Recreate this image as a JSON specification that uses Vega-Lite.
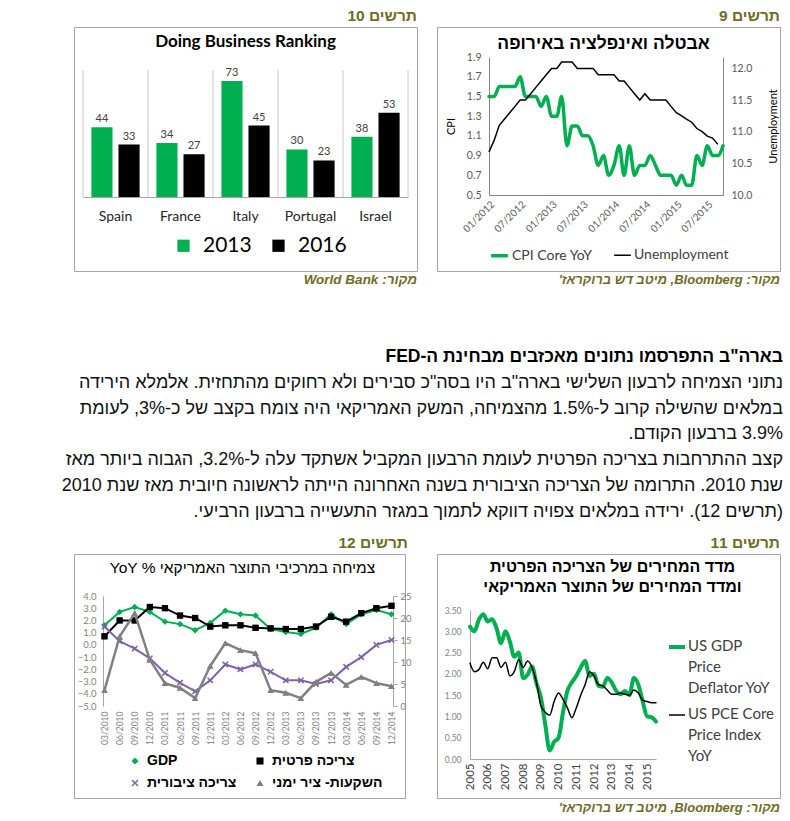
{
  "$schema": "https://vega.github.io/schema/vega-lite/v6.json",
  "background": "#ffffff",
  "padding": {"left": 0, "top": 5, "right": 0, "bottom": 0},
  "columns": 3,
  "spacing": {"row": 0, "column": 20},
  "bounds": "flush",
  "resolve": {"scale": {"color": "independent", "size": "independent", "shape": "independent", "strokeWidth": "independent"}},
  "config": {
    "view": {"stroke": null},
    "axis": {"grid": false, "labelFont": "Lato", "titleFont": "Lato", "domainColor": "#a6a6a6", "tickColor": "#a6a6a6", "labelColor": "#595959", "titleColor": "#000000", "titleFontWeight": "normal", "labelOverlap": false},
    "legend": {"labelFont": "Lato", "labelColor": "#404040"},
    "title": {"font": "Liberation Sans", "color": "#000000"}
  },
  "concat": [
    {"width": 54, "height": 1, "data": {"values": []}, "mark": "point"},
    {"width": 343, "height": 22, "data": {"values": [{"label": "\u202bתרשים  10\u202c"}]}, "mark": {"type": "text", "x": "width", "y": "height", "dy": -11, "align": "right", "baseline": "middle", "font": "Liberation Sans", "fontSize": 15.5, "fontWeight": "bold", "color": "#6f6b24"}, "encoding": {"text": {"field": "label", "type": "nominal"}}},
    {"width": 343, "height": 22, "data": {"values": [{"label": "\u202bתרשים  9\u202c"}]}, "mark": {"type": "text", "x": "width", "y": "height", "dy": -11, "align": "right", "baseline": "middle", "font": "Liberation Sans", "fontSize": 15.5, "fontWeight": "bold", "color": "#6f6b24"}, "encoding": {"text": {"field": "label", "type": "nominal"}}},

    {"width": 54, "height": 1, "data": {"values": []}, "mark": "point"},
    {
      "width": 343, "height": 244,
      "view": {"stroke": "#a6a6a6"},
      "title": {"text": "Doing Business Ranking", "font": "Lato", "fontSize": 17, "fontWeight": "bold", "color": "#000000", "anchor": "middle", "frame": "group", "offset": -24},
      "data": {"values": [
        {"country": "Spain", "year": "2013", "rank": 44}, {"country": "Spain", "year": "2016", "rank": 33},
        {"country": "France", "year": "2013", "rank": 34}, {"country": "France", "year": "2016", "rank": 27},
        {"country": "Italy", "year": "2013", "rank": 73}, {"country": "Italy", "year": "2016", "rank": 45},
        {"country": "Portugal", "year": "2013", "rank": 30}, {"country": "Portugal", "year": "2016", "rank": 23},
        {"country": "Israel", "year": "2013", "rank": 38}, {"country": "Israel", "year": "2016", "rank": 53}
      ]},
      "encoding": {
        "x": {"field": "country", "type": "nominal", "scale": {"domain": ["Spain", "France", "Italy", "Portugal", "Israel"], "range": [9, 334], "paddingInner": 0, "paddingOuter": 0}, "axis": {"orient": "bottom", "offset": -74, "title": null, "ticks": false, "labelAngle": 0, "labelFontSize": 14, "labelColor": "#262626", "labelPadding": 12, "domainColor": "#a6a6a6"}},
        "y": {"field": "rank", "type": "quantitative", "scale": {"domain": [0, 80], "range": [170, 43], "nice": false}, "axis": null}
      },
      "layer": [
        {"transform": [{"filter": "datum.year == '2013'"}], "mark": {"type": "rule", "color": "#c8c8c8", "strokeWidth": 1}, "encoding": {"x": {"field": "country", "type": "nominal", "bandPosition": 0}, "y": {"datum": 0, "type": "quantitative"}, "y2": {"datum": 80}}},
        {"transform": [{"filter": "datum.year == '2013' && datum.country == 'Israel'"}], "mark": {"type": "rule", "color": "#c8c8c8", "strokeWidth": 1}, "encoding": {"x": {"field": "country", "type": "nominal", "bandPosition": 1}, "y": {"datum": 0, "type": "quantitative"}, "y2": {"datum": 80}}},
        {"mark": {"type": "bar"}, "encoding": {
          "xOffset": {"field": "year", "type": "nominal", "scale": {"paddingInner": 0.22, "paddingOuter": 0.31}},
          "color": {"field": "year", "type": "nominal", "scale": {"domain": ["2013", "2016"], "range": ["#00b050", "#000000"]}, "legend": {"orient": "none", "legendX": 99, "legendY": 208, "direction": "horizontal", "title": null, "symbolType": "square", "symbolSize": 150, "labelFontSize": 21, "labelColor": "#000000", "labelOffset": 9, "columnPadding": 16, "symbolStrokeWidth": 0}}
        }},
        {"mark": {"type": "text", "dy": -8, "font": "Lato", "fontSize": 11, "color": "#404040"}, "encoding": {
          "xOffset": {"field": "year", "type": "nominal", "scale": {"paddingInner": 0.22, "paddingOuter": 0.31}},
          "text": {"field": "rank", "type": "quantitative"}
        }}
      ]
    },
    {
      "width": 343, "height": 244,
      "view": {"stroke": "#a6a6a6"},
      "title": {"text": "אבטלה ואינפלציה באירופה", "fontSize": 17.5, "fontWeight": "bold", "anchor": "middle", "frame": "group", "offset": -25, "dx": -5},
      "data": {"values": [
        {"d": "2012/01/01", "CPI Core YoY": 1.5, "Unemployment": 10.68},
        {"d": "2012/02/01", "CPI Core YoY": 1.5, "Unemployment": 10.87},
        {"d": "2012/03/01", "CPI Core YoY": 1.6, "Unemployment": 11.1},
        {"d": "2012/04/01", "CPI Core YoY": 1.6, "Unemployment": 11.2},
        {"d": "2012/05/01", "CPI Core YoY": 1.6, "Unemployment": 11.3},
        {"d": "2012/06/01", "CPI Core YoY": 1.6, "Unemployment": 11.4},
        {"d": "2012/07/01", "CPI Core YoY": 1.7, "Unemployment": 11.5},
        {"d": "2012/08/01", "CPI Core YoY": 1.5, "Unemployment": 11.5},
        {"d": "2012/09/01", "CPI Core YoY": 1.5, "Unemployment": 11.6},
        {"d": "2012/10/01", "CPI Core YoY": 1.5, "Unemployment": 11.7},
        {"d": "2012/11/01", "CPI Core YoY": 1.4, "Unemployment": 11.8},
        {"d": "2012/12/01", "CPI Core YoY": 1.5, "Unemployment": 11.9},
        {"d": "2013/01/01", "CPI Core YoY": 1.3, "Unemployment": 12.0},
        {"d": "2013/02/01", "CPI Core YoY": 1.3, "Unemployment": 12.0},
        {"d": "2013/03/01", "CPI Core YoY": 1.5, "Unemployment": 12.1},
        {"d": "2013/04/01", "CPI Core YoY": 1.0, "Unemployment": 12.1},
        {"d": "2013/05/01", "CPI Core YoY": 1.2, "Unemployment": 12.1},
        {"d": "2013/06/01", "CPI Core YoY": 1.2, "Unemployment": 12.0},
        {"d": "2013/07/01", "CPI Core YoY": 1.1, "Unemployment": 12.0},
        {"d": "2013/08/01", "CPI Core YoY": 1.1, "Unemployment": 12.0},
        {"d": "2013/09/01", "CPI Core YoY": 1.0, "Unemployment": 12.0},
        {"d": "2013/10/01", "CPI Core YoY": 0.8, "Unemployment": 11.9},
        {"d": "2013/11/01", "CPI Core YoY": 0.9, "Unemployment": 11.9},
        {"d": "2013/12/01", "CPI Core YoY": 0.7, "Unemployment": 11.9},
        {"d": "2014/01/01", "CPI Core YoY": 0.8, "Unemployment": 11.9},
        {"d": "2014/02/01", "CPI Core YoY": 1.0, "Unemployment": 11.8},
        {"d": "2014/03/01", "CPI Core YoY": 0.7, "Unemployment": 11.8},
        {"d": "2014/04/01", "CPI Core YoY": 1.0, "Unemployment": 11.7},
        {"d": "2014/05/01", "CPI Core YoY": 0.7, "Unemployment": 11.6},
        {"d": "2014/06/01", "CPI Core YoY": 0.8, "Unemployment": 11.5},
        {"d": "2014/07/01", "CPI Core YoY": 0.8, "Unemployment": 11.6},
        {"d": "2014/08/01", "CPI Core YoY": 0.9, "Unemployment": 11.5},
        {"d": "2014/09/01", "CPI Core YoY": 0.8, "Unemployment": 11.5},
        {"d": "2014/10/01", "CPI Core YoY": 0.7, "Unemployment": 11.5},
        {"d": "2014/11/01", "CPI Core YoY": 0.7, "Unemployment": 11.5},
        {"d": "2014/12/01", "CPI Core YoY": 0.7, "Unemployment": 11.4},
        {"d": "2015/01/01", "CPI Core YoY": 0.6, "Unemployment": 11.3},
        {"d": "2015/02/01", "CPI Core YoY": 0.7, "Unemployment": 11.25},
        {"d": "2015/03/01", "CPI Core YoY": 0.6, "Unemployment": 11.2},
        {"d": "2015/04/01", "CPI Core YoY": 0.6, "Unemployment": 11.15},
        {"d": "2015/05/01", "CPI Core YoY": 0.9, "Unemployment": 11.05},
        {"d": "2015/06/01", "CPI Core YoY": 0.8, "Unemployment": 11.0},
        {"d": "2015/07/01", "CPI Core YoY": 1.0, "Unemployment": 10.93},
        {"d": "2015/08/01", "CPI Core YoY": 0.9, "Unemployment": 10.9},
        {"d": "2015/09/01", "CPI Core YoY": 0.9, "Unemployment": 10.8},
        {"d": "2015/10/01", "CPI Core YoY": 1.0}
      ]},
      "transform": [{"fold": ["CPI Core YoY", "Unemployment"], "as": ["series", "v"]}, {"filter": "datum.v != null"}],
      "encoding": {
        "x": {"field": "d", "type": "temporal", "scale": {"domain": [{"year": 2012, "month": 1, "date": 1}, {"year": 2015, "month": 10, "date": 1}], "range": [52, 286], "nice": false}, "axis": {"orient": "bottom", "offset": -76, "title": null, "ticks": false, "format": "%m/%Y", "labelAngle": -45, "labelFontSize": 10, "labelPadding": 4, "domainColor": "#868686", "values": [{"year": 2012, "month": 1, "date": 1}, {"year": 2012, "month": 7, "date": 1}, {"year": 2013, "month": 1, "date": 1}, {"year": 2013, "month": 7, "date": 1}, {"year": 2014, "month": 1, "date": 1}, {"year": 2014, "month": 7, "date": 1}, {"year": 2015, "month": 1, "date": 1}, {"year": 2015, "month": 7, "date": 1}]}},
        "color": {"field": "series", "type": "nominal", "scale": {"domain": ["CPI Core YoY", "Unemployment"], "range": ["#00b050", "#000000"]}, "legend": {"orient": "none", "legendX": 52, "legendY": 218, "direction": "horizontal", "title": null, "symbolType": "stroke", "symbolSize": 280, "labelFontSize": 14, "labelOffset": 2, "columnPadding": 18}},
        "strokeWidth": {"field": "series", "type": "nominal", "scale": {"domain": ["CPI Core YoY", "Unemployment"], "range": [3.5, 1.5]}, "legend": {"orient": "none", "legendX": 52, "legendY": 218, "direction": "horizontal", "title": null, "symbolType": "stroke", "symbolSize": 280, "labelFontSize": 14, "labelOffset": 2, "columnPadding": 18}}
      },
      "layer": [
        {"transform": [{"filter": "datum.series == 'CPI Core YoY'"}], "mark": {"type": "line", "interpolate": "monotone", "strokeCap": "round"}, "encoding": {"y": {"field": "v", "type": "quantitative", "scale": {"domain": [0.5, 1.9], "range": [168, 30], "nice": false, "zero": false}, "axis": {"orient": "left", "offset": -52, "values": [0.5, 0.7, 0.9, 1.1, 1.3, 1.5, 1.7, 1.9], "format": ".1f", "title": "CPI", "titleFontSize": 11, "titlePadding": 10, "ticks": false, "labelPadding": 8, "labelFontSize": 10.5, "labelOverlap": false, "domainColor": "#868686"}}}},
        {"transform": [{"filter": "datum.series == 'Unemployment'"}], "mark": {"type": "line"}, "encoding": {"y": {"field": "v", "type": "quantitative", "scale": {"domain": [10, 12.18], "range": [168, 30], "nice": false, "zero": false}, "axis": {"orient": "right", "offset": -57, "values": [10, 10.5, 11, 11.5, 12], "format": ".1f", "title": "Unemployment", "titleFontSize": 11, "titleAngle": 270, "titleBaseline": "top", "titlePadding": 16, "ticks": false, "labelPadding": 8, "labelFontSize": 10.5, "labelOverlap": false, "domainColor": "#868686"}}}}
      ],
      "resolve": {"scale": {"y": "independent"}}
    },

    {"width": 54, "height": 1, "data": {"values": []}, "mark": "point"},
    {"width": 343, "height": 16, "data": {"values": [{"label": "\u202bמקור: World Bank\u202c"}]}, "mark": {"type": "text", "x": "width", "y": "height", "dy": -7, "align": "right", "baseline": "middle", "font": "Liberation Sans", "fontSize": 13.5, "fontWeight": "bold", "fontStyle": "italic", "color": "#6f6b24"}, "encoding": {"text": {"field": "label", "type": "nominal"}}},
    {"width": 343, "height": 16, "data": {"values": [{"label": "\u202bמקור: Bloomberg, מיטב דש ברוקראז'\u202c"}]}, "mark": {"type": "text", "x": "width", "y": "height", "dy": -7, "align": "right", "baseline": "middle", "font": "Liberation Sans", "fontSize": 13, "fontWeight": "bold", "fontStyle": "italic", "color": "#6f6b24"}, "encoding": {"text": {"field": "label", "type": "nominal"}}},

    {"width": 54, "height": 1, "data": {"values": []}, "mark": "point"},
    {"width": 1, "height": 1, "data": {"values": []}, "mark": "point"},
    {
      "width": 343, "height": 245,
      "data": {"values": [
        {"row": 0, "kind": "h", "text": "\u202bבארה\"ב התפרסמו נתונים מאכזבים מבחינת ה-FED\u202c"},
        {"row": 1, "kind": "b", "text": "\u202bנתוני הצמיחה לרבעון השלישי בארה\"ב היו בסה\"כ סבירים ולא רחוקים מהתחזית. אלמלא הירידה\u202c"},
        {"row": 2, "kind": "b", "text": "\u202bבמלאים שהשילה קרוב ל-1.5% מהצמיחה, המשק האמריקאי היה צומח בקצב של כ-3%, לעומת\u202c"},
        {"row": 3, "kind": "b", "text": "\u202b3.9% ברבעון הקודם.\u202c"},
        {"row": 4, "kind": "b", "text": "\u202bקצב ההתרחבות בצריכה הפרטית לעומת הרבעון המקביל אשתקד עלה ל-3.2%, הגבוה ביותר מאז\u202c"},
        {"row": 5, "kind": "b", "text": "\u202bשנת 2010. התרומה של הצריכה הציבורית בשנה האחרונה הייתה לראשונה חיובית מאז שנת 2010\u202c"},
        {"row": 6, "kind": "b", "text": "\u202b(תרשים 12). ירידה במלאים צפויה דווקא לתמוך במגזר התעשייה ברבעון הרביעי.\u202c"}
      ]},
      "encoding": {
        "y": {"field": "row", "type": "quantitative", "scale": {"domain": [-2.71, 6.78], "reverse": true, "nice": false, "zero": false}, "axis": null},
        "text": {"field": "text", "type": "nominal"}
      },
      "layer": [
        {"transform": [{"filter": "datum.kind == 'h'"}], "mark": {"type": "text", "x": "width", "dx": 3, "align": "right", "baseline": "middle", "font": "Liberation Sans", "fontSize": 17.5, "fontWeight": "bold", "color": "#000000"}},
        {"transform": [{"filter": "datum.kind == 'b'"}], "mark": {"type": "text", "x": "width", "dx": 3, "align": "right", "baseline": "middle", "font": "Liberation Sans", "fontSize": 18, "fontWeight": "normal", "color": "#111111"}}
      ]
    },

    {"width": 54, "height": 1, "data": {"values": []}, "mark": "point"},
    {"width": 334, "height": 22, "data": {"values": [{"label": "\u202bתרשים  12\u202c"}]}, "mark": {"type": "text", "x": "width", "y": "height", "dy": -11, "align": "right", "baseline": "middle", "font": "Liberation Sans", "fontSize": 15.5, "fontWeight": "bold", "color": "#6f6b24"}, "encoding": {"text": {"field": "label", "type": "nominal"}}},
    {"width": 343, "height": 22, "data": {"values": [{"label": "\u202bתרשים  11\u202c"}]}, "mark": {"type": "text", "x": "width", "y": "height", "dy": -11, "align": "right", "baseline": "middle", "font": "Liberation Sans", "fontSize": 15.5, "fontWeight": "bold", "color": "#6f6b24"}, "encoding": {"text": {"field": "label", "type": "nominal"}}},

    {"width": 54, "height": 1, "data": {"values": []}, "mark": "point"},
    {
      "width": 331, "height": 244,
      "view": {"stroke": "#a6a6a6"},
      "title": {"text": "YoY % צמיחה במרכיבי התוצר האמריקאי", "fontSize": 15.5, "fontWeight": "normal", "anchor": "middle", "frame": "group", "offset": -22, "dx": 3},
      "data": {"values": [
        {"q": "03/2010", "GDP": 1.6, "צריכה פרטית": 0.7, "צריכה ציבורית": 1.5, "השקעות- ציר ימני": 3.6},
        {"q": "06/2010", "GDP": 2.7, "צריכה פרטית": 2.0, "צריכה ציבורית": 0.3, "השקעות- ציר ימני": 15.8},
        {"q": "09/2010", "GDP": 3.1, "צריכה פרטית": 2.0, "צריכה ציבורית": -0.3, "השקעות- ציר ימני": 21.1},
        {"q": "12/2010", "GDP": 2.7, "צריכה פרטית": 3.1, "צריכה ציבורית": -1.1, "השקעות- ציר ימני": 10.5},
        {"q": "03/2011", "GDP": 1.9, "צריכה פרטית": 3.0, "צריכה ציבורית": -2.3, "השקעות- ציר ימני": 5.2},
        {"q": "06/2011", "GDP": 1.7, "צריכה פרטית": 2.4, "צריכה ציבורית": -3.1, "השקעות- ציר ימני": 4.1},
        {"q": "09/2011", "GDP": 1.2, "צריכה פרטית": 2.2, "צריכה ציבורית": -3.8, "השקעות- ציר ימני": 1.8},
        {"q": "12/2011", "GDP": 1.8, "צריכה פרטית": 1.5, "צריכה ציבורית": -2.9, "השקעות- ציר ימני": 9.1},
        {"q": "03/2012", "GDP": 2.8, "צריכה פרטית": 1.6, "צריכה ציבורית": -1.6, "השקעות- ציר ימני": 14.3},
        {"q": "06/2012", "GDP": 2.5, "צריכה פרטית": 1.6, "צריכה ציבורית": -2.0, "השקעות- ציר ימני": 12.7},
        {"q": "09/2012", "GDP": 2.4, "צריכה פרטית": 1.4, "צריכה ציבורית": -1.6, "השקעות- ציר ימני": 12.0},
        {"q": "12/2012", "GDP": 1.3, "צריכה פרטית": 1.35, "צריכה ציבורית": -2.2, "השקעות- ציר ימני": 3.6},
        {"q": "03/2013", "GDP": 1.05, "צריכה פרטית": 1.3, "צריכה ציבורית": -2.9, "השקעות- ציר ימני": 3.0},
        {"q": "06/2013", "GDP": 0.9, "צריכה פרטית": 1.3, "צריכה ציבורית": -2.9, "השקעות- ציר ימני": 1.8},
        {"q": "09/2013", "GDP": 1.4, "צריכה פרטית": 1.5, "צריכה ציבורית": -3.2, "השקעות- ציר ימני": 5.5},
        {"q": "12/2013", "GDP": 2.5, "צריכה פרטית": 2.3, "צריכה ציבורית": -2.9, "השקעות- ציר ימני": 7.5},
        {"q": "03/2014", "GDP": 1.7, "צריכה פרטית": 1.9, "צריכה ציבורית": -1.8, "השקעות- ציר ימני": 4.8},
        {"q": "06/2014", "GDP": 2.5, "צריכה פרטית": 2.6, "צריכה ציבורית": -1.0, "השקעות- ציר ימני": 6.6},
        {"q": "09/2014", "GDP": 2.85, "צריכה פרטית": 3.0, "צריכה ציבורית": 0.0, "השקעות- ציר ימני": 5.2},
        {"q": "12/2014", "GDP": 2.5, "צריכה פרטית": 3.2, "צריכה ציבורית": 0.4, "השקעות- ציר ימני": 4.5}
      ]},
      "encoding": {
        "x": {"field": "q", "type": "ordinal", "scale": {"type": "point", "domain": ["03/2010", "06/2010", "09/2010", "12/2010", "03/2011", "06/2011", "09/2011", "12/2011", "03/2012", "06/2012", "09/2012", "12/2012", "03/2013", "06/2013", "09/2013", "12/2013", "03/2014", "06/2014", "09/2014", "12/2014"], "range": [29, 319], "padding": 0.1}, "axis": {"orient": "bottom", "offset": -92, "title": null, "domain": false, "ticks": false, "labelAngle": -90, "labelFontSize": 8.5, "labelColor": "#7f7f7f", "labelPadding": 5}},
        "color": {"field": "series", "type": "nominal", "scale": {"domain": ["GDP", "צריכה ציבורית", "צריכה פרטית", "השקעות- ציר ימני"], "range": ["#00b050", "#7f62a8", "#000000", "#808080"]}, "legend": {"orient": "none", "legendX": 54, "legendY": 200, "title": null, "columns": 2, "columnPadding": 16, "rowPadding": 8, "symbolSize": 50, "labelFont": "Liberation Sans", "labelFontSize": 14, "labelFontWeight": "bold", "labelColor": "#000000", "labelOffset": 5, "symbolStrokeWidth": 0}},
        "shape": {"field": "series", "type": "nominal", "scale": {"domain": ["GDP", "צריכה ציבורית", "צריכה פרטית", "השקעות- ציר ימני"], "range": ["diamond", "M-1,-0.7L-0.7,-1L0,-0.3L0.7,-1L1,-0.7L0.3,0L1,0.7L0.7,1L0,0.3L-0.7,1L-1,0.7L-0.3,0Z", "square", "triangle-up"]}, "legend": {"orient": "none", "legendX": 54, "legendY": 200, "title": null, "columns": 2, "columnPadding": 16, "rowPadding": 8, "symbolSize": 50, "labelFont": "Liberation Sans", "labelFontSize": 14, "labelFontWeight": "bold", "labelColor": "#000000", "labelOffset": 5, "symbolStrokeWidth": 0}}
      },
      "layer": [
        {
          "encoding": {
            "y": {"field": "v", "type": "quantitative", "scale": {"domain": [-5, 4], "range": [152, 42], "nice": false, "zero": false}, "axis": {"orient": "left", "offset": -29, "values": [-5, -4, -3, -2, -1, 0, 1, 2, 3, 4], "format": ".1f", "title": null, "ticks": false, "labelPadding": 7, "labelFontSize": 9.5, "labelColor": "#7f7f7f", "labelOverlap": false, "labelFlush": false, "domainColor": "#a6a6a6"}}
          },
          "layer": [
            {"transform": [{"fold": ["GDP", "צריכה פרטית", "צריכה ציבורית"], "as": ["series", "v"]}], "mark": {"type": "line", "strokeWidth": 2}},
            {"transform": [{"fold": ["GDP", "צריכה פרטית", "צריכה ציבורית"], "as": ["series", "v"]}], "mark": {"type": "point", "filled": true, "opacity": 1, "size": 40}},
            {"transform": [{"filter": "datum.q == '03/2010'"}], "mark": {"type": "rule", "color": "#868686", "strokeWidth": 1}, "encoding": {"x": {"datum": "03/2010", "type": "ordinal"}, "x2": {"datum": "12/2014"}, "y": {"datum": 0, "type": "quantitative", "axis": {"orient": "left", "offset": -29, "values": [-5, -4, -3, -2, -1, 0, 1, 2, 3, 4], "format": ".1f", "title": null, "ticks": false, "labelPadding": 7, "labelFontSize": 9.5, "labelColor": "#7f7f7f", "labelOverlap": false, "labelFlush": false, "domainColor": "#a6a6a6"}}, "color": {"value": "#868686"}}}
          ]
        },
        {
          "encoding": {
            "y": {"field": "v", "type": "quantitative", "scale": {"domain": [0, 25], "range": [152, 42], "nice": false, "zero": false}, "axis": {"orient": "right", "offset": -12, "values": [0, 5, 10, 15, 20, 25], "title": null, "ticks": true, "tickSize": 4, "labelPadding": 3, "labelFontSize": 9.5, "labelColor": "#7f7f7f", "labelOverlap": false, "labelFlush": false, "domainColor": "#a6a6a6"}}
          },
          "layer": [
            {"transform": [{"fold": ["השקעות- ציר ימני"], "as": ["series", "v"]}], "mark": {"type": "line", "strokeWidth": 2.5}},
            {"transform": [{"fold": ["השקעות- ציר ימני"], "as": ["series", "v"]}], "mark": {"type": "point", "filled": true, "opacity": 1, "size": 45}}
          ]
        }
      ],
      "resolve": {"scale": {"y": "independent"}}
    },
    {
      "width": 343, "height": 244,
      "view": {"stroke": "#a6a6a6"},
      "title": {"text": ["מדד המחירים של הצריכה הפרטית", "ומדד המחירים של התוצר האמריקאי"], "fontSize": 16, "fontWeight": "bold", "anchor": "middle", "frame": "group", "offset": -41, "dx": 4, "lineHeight": 20},
      "data": {"values": [
        {"t": 2005.0, "US GDP Price Deflator YoY": 3.11, "US PCE Core Price Index YoY": 2.25},
        {"t": 2005.25, "US GDP Price Deflator YoY": 3.0, "US PCE Core Price Index YoY": 2.05},
        {"t": 2005.5, "US GDP Price Deflator YoY": 3.27, "US PCE Core Price Index YoY": 2.1},
        {"t": 2005.75, "US GDP Price Deflator YoY": 3.4, "US PCE Core Price Index YoY": 2.27},
        {"t": 2006.0, "US GDP Price Deflator YoY": 3.23, "US PCE Core Price Index YoY": 2.12},
        {"t": 2006.25, "US GDP Price Deflator YoY": 3.28, "US PCE Core Price Index YoY": 2.38},
        {"t": 2006.5, "US GDP Price Deflator YoY": 3.07, "US PCE Core Price Index YoY": 2.38},
        {"t": 2006.75, "US GDP Price Deflator YoY": 2.72, "US PCE Core Price Index YoY": 2.15},
        {"t": 2007.0, "US GDP Price Deflator YoY": 3.0, "US PCE Core Price Index YoY": 2.27},
        {"t": 2007.25, "US GDP Price Deflator YoY": 2.76, "US PCE Core Price Index YoY": 1.95},
        {"t": 2007.5, "US GDP Price Deflator YoY": 2.4, "US PCE Core Price Index YoY": 2.05},
        {"t": 2007.75, "US GDP Price Deflator YoY": 2.5, "US PCE Core Price Index YoY": 2.33},
        {"t": 2008.0, "US GDP Price Deflator YoY": 1.9, "US PCE Core Price Index YoY": 2.15},
        {"t": 2008.25, "US GDP Price Deflator YoY": 1.98, "US PCE Core Price Index YoY": 2.3},
        {"t": 2008.5, "US GDP Price Deflator YoY": 2.17, "US PCE Core Price Index YoY": 2.15},
        {"t": 2008.75, "US GDP Price Deflator YoY": 1.78, "US PCE Core Price Index YoY": 1.8},
        {"t": 2009.0, "US GDP Price Deflator YoY": 1.45, "US PCE Core Price Index YoY": 1.25},
        {"t": 2009.25, "US GDP Price Deflator YoY": 0.8, "US PCE Core Price Index YoY": 1.1},
        {"t": 2009.5, "US GDP Price Deflator YoY": 0.2, "US PCE Core Price Index YoY": 1.03},
        {"t": 2009.75, "US GDP Price Deflator YoY": 0.4, "US PCE Core Price Index YoY": 1.35},
        {"t": 2010.0, "US GDP Price Deflator YoY": 0.5, "US PCE Core Price Index YoY": 1.55},
        {"t": 2010.25, "US GDP Price Deflator YoY": 1.1, "US PCE Core Price Index YoY": 1.4},
        {"t": 2010.5, "US GDP Price Deflator YoY": 1.6, "US PCE Core Price Index YoY": 1.2},
        {"t": 2010.75, "US GDP Price Deflator YoY": 1.8, "US PCE Core Price Index YoY": 0.97},
        {"t": 2011.0, "US GDP Price Deflator YoY": 1.95, "US PCE Core Price Index YoY": 1.2},
        {"t": 2011.25, "US GDP Price Deflator YoY": 2.15, "US PCE Core Price Index YoY": 1.5},
        {"t": 2011.5, "US GDP Price Deflator YoY": 2.3, "US PCE Core Price Index YoY": 1.75},
        {"t": 2011.75, "US GDP Price Deflator YoY": 1.95, "US PCE Core Price Index YoY": 2.05},
        {"t": 2012.0, "US GDP Price Deflator YoY": 2.0, "US PCE Core Price Index YoY": 1.95},
        {"t": 2012.25, "US GDP Price Deflator YoY": 1.72, "US PCE Core Price Index YoY": 1.75},
        {"t": 2012.5, "US GDP Price Deflator YoY": 1.7, "US PCE Core Price Index YoY": 1.72},
        {"t": 2012.75, "US GDP Price Deflator YoY": 1.9, "US PCE Core Price Index YoY": 1.62},
        {"t": 2013.0, "US GDP Price Deflator YoY": 1.8, "US PCE Core Price Index YoY": 1.52},
        {"t": 2013.25, "US GDP Price Deflator YoY": 1.6, "US PCE Core Price Index YoY": 1.52},
        {"t": 2013.5, "US GDP Price Deflator YoY": 1.52, "US PCE Core Price Index YoY": 1.55},
        {"t": 2013.75, "US GDP Price Deflator YoY": 1.6, "US PCE Core Price Index YoY": 1.52},
        {"t": 2014.0, "US GDP Price Deflator YoY": 1.5, "US PCE Core Price Index YoY": 1.5},
        {"t": 2014.25, "US GDP Price Deflator YoY": 1.9, "US PCE Core Price Index YoY": 1.62},
        {"t": 2014.5, "US GDP Price Deflator YoY": 1.75, "US PCE Core Price Index YoY": 1.55},
        {"t": 2014.75, "US GDP Price Deflator YoY": 1.35, "US PCE Core Price Index YoY": 1.38},
        {"t": 2015.0, "US GDP Price Deflator YoY": 1.0, "US PCE Core Price Index YoY": 1.35},
        {"t": 2015.25, "US GDP Price Deflator YoY": 0.98, "US PCE Core Price Index YoY": 1.32},
        {"t": 2015.5, "US GDP Price Deflator YoY": 0.88, "US PCE Core Price Index YoY": 1.32}
      ]},
      "transform": [{"fold": ["US GDP Price Deflator YoY", "US PCE Core Price Index YoY"], "as": ["series", "v"]}],
      "mark": {"type": "line", "interpolate": "monotone", "strokeCap": "round"},
      "encoding": {
        "x": {"field": "t", "type": "quantitative", "scale": {"domain": [2005, 2015.5], "range": [33, 219], "nice": false, "zero": false}, "axis": {"orient": "bottom", "offset": -39, "values": [2005, 2006, 2007, 2008, 2009, 2010, 2011, 2012, 2013, 2014, 2015], "format": "d", "title": null, "ticks": false, "labelAngle": -90, "labelFontSize": 11.5, "labelColor": "#404040", "labelPadding": 4, "labelOverlap": false, "labelFlush": false, "domainColor": "#a6a6a6"}},
        "y": {"field": "v", "type": "quantitative", "scale": {"domain": [0, 3.5], "range": [205, 56], "nice": false, "zero": false}, "axis": {"orient": "left", "offset": -33, "values": [0, 0.5, 1, 1.5, 2, 2.5, 3, 3.5], "format": ".2f", "title": null, "ticks": false, "labelPadding": 9, "labelFontSize": 8.5, "labelColor": "#7f7f7f", "labelOverlap": false, "labelFlush": false, "domainColor": "#a6a6a6"}},
        "color": {"field": "series", "type": "nominal", "scale": {"domain": ["US GDP Price Deflator YoY", "US PCE Core Price Index YoY"], "range": ["#00b050", "#000000"]}, "legend": {"orient": "none", "legendX": 230, "legendY": 83, "title": null, "symbolType": "stroke", "symbolSize": 256, "labelFontSize": 15, "labelOffset": 1, "rowPadding": 10, "labelBaseline": "top", "labelExpr": "datum.label == 'US GDP Price Deflator YoY' ? ['US GDP', 'Price', 'Deflator YoY'] : ['US PCE Core', 'Price Index', 'YoY']", "encode": {"labels": {"update": {"lineHeight": {"value": 21}, "dy": {"value": -8}}}}}},
        "strokeWidth": {"field": "series", "type": "nominal", "scale": {"domain": ["US GDP Price Deflator YoY", "US PCE Core Price Index YoY"], "range": [4, 1.5]}, "legend": {"orient": "none", "legendX": 230, "legendY": 83, "title": null, "symbolType": "stroke", "symbolSize": 256, "labelFontSize": 15, "labelOffset": 1, "rowPadding": 10, "labelBaseline": "top", "labelExpr": "datum.label == 'US GDP Price Deflator YoY' ? ['US GDP', 'Price', 'Deflator YoY'] : ['US PCE Core', 'Price Index', 'YoY']", "encode": {"labels": {"update": {"lineHeight": {"value": 21}, "dy": {"value": -8}}}}}}
      }
    },

    {"width": 54, "height": 1, "data": {"values": []}, "mark": "point"},
    {"width": 1, "height": 1, "data": {"values": []}, "mark": "point"},
    {"width": 343, "height": 20, "data": {"values": [{"label": "\u202bמקור: Bloomberg, מיטב דש ברוקראז'\u202c"}]}, "mark": {"type": "text", "x": "width", "y": "height", "dy": -10, "align": "right", "baseline": "middle", "font": "Liberation Sans", "fontSize": 13, "fontWeight": "bold", "fontStyle": "italic", "color": "#6f6b24"}, "encoding": {"text": {"field": "label", "type": "nominal"}}}
  ]
}
